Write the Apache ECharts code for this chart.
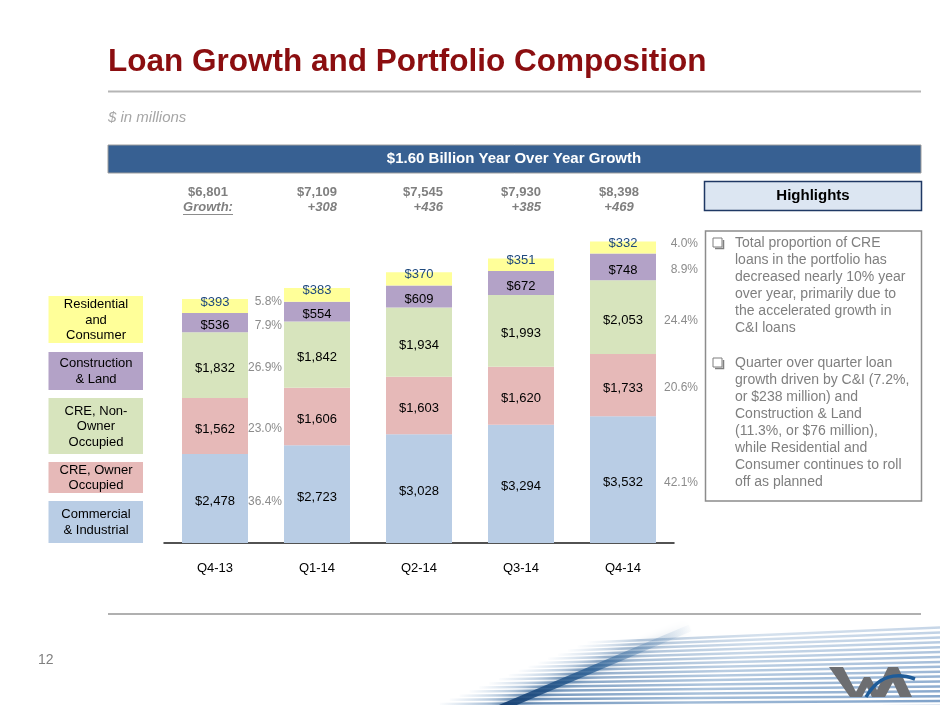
<!DOCTYPE html>
<html><head><meta charset="utf-8">
<script src="https://cdn.jsdelivr.net/npm/echarts@6/dist/echarts.min.js"></script>
<style>html,body{margin:0;padding:0;background:#fff}#c{width:940px;height:705px}</style>
</head><body><div id="c"></div>
<script>
// ---------- data ----------
const categories = ['Q4-13', 'Q1-14', 'Q2-14', 'Q3-14', 'Q4-14'];
const commercialIndustrial = [2478, 2723, 3028, 3294, 3532];
const creOwnerOccupied = [1562, 1606, 1603, 1620, 1733];
const creNonOwnerOccupied = [1832, 1842, 1934, 1993, 2053];
const constructionLand = [536, 554, 609, 672, 748];
const residentialConsumer = [393, 383, 370, 351, 332];
const totals = ['$6,801', '$7,109', '$7,545', '$7,930', '$8,398'];
const growth = ['Growth:', '+308', '+436', '+385', '+469'];
// share of portfolio, bottom to top
const pctQ413 = ['36.4%', '23.0%', '26.9%', '7.9%', '5.8%'];
const pctQ414 = ['42.1%', '20.6%', '24.4%', '8.9%', '4.0%'];
const seriesNames = ['Commercial & Industrial', 'CRE, Owner Occupied', 'CRE, Non-Owner Occupied', 'Construction & Land', 'Residential and Consumer'];

// ---------- styles ----------
const FONT = 'Arial, "Liberation Sans", sans-serif';
const colors = ['#B9CDE5', '#E6B9B8', '#D7E4BD', '#B3A2C7', '#FFFF99'];
const seriesData = [commercialIndustrial, creOwnerOccupied, creNonOwnerOccupied, constructionLand, residentialConsumer];
const fmt = v => '$' + String(v).replace(/\B(?=(\d{3})+(?!\d))/g, ',');

const series = [];
seriesData.forEach((d, i) => {
  series.push({
    name: seriesNames[i], type: 'bar', stack: 'main', barWidth: 66, barGap: '-100%',
    xAxisIndex: 0, yAxisIndex: 0, silent: true,
    itemStyle: { color: colors[i] },
    label: {
      show: true, position: 'inside', fontFamily: FONT, fontSize: 13,
      color: i === 4 ? '#1F497D' : '#000', offset: [0, i === 4 ? -4 : 3],
      formatter: p => fmt(p.value)
    },
    data: d
  });
});
// percentage labels (overlaid transparent stack)
seriesData.forEach((d, i) => {
  series.push({
    type: 'bar', stack: 'pct', barWidth: 66, barGap: '-100%',
    xAxisIndex: 0, yAxisIndex: 0, silent: true,
    itemStyle: { color: 'rgba(0,0,0,0)' },
    data: d.map((v, j) => ({
      value: v,
      label: {
        show: j === 0 || j === 4, position: 'right', align: 'right',
        distance: j === 0 ? 34 : 42, offset: [0, i === 4 ? -4 : 3],
        fontFamily: FONT, fontSize: 12, color: '#8C8C8C',
        formatter: () => (j === 0 ? pctQ413[i] : pctQ414[i])
      }
    }))
  });
});

// top labels: totals and growth
const spacers = [{l: 0, r: 14}, {l: 0, r: 0}, {l: 8, r: 0}, {l: 0, r: 0}, {l: 0, r: 8}];
function topLabel(v, i) {
  const s = spacers[i];
  const L = s.l ? '{sl| }' : '';
  const R = s.r ? '{sr' + i + '| }' : '';
  return L + '{t|' + totals[i] + '}' + R + '\n' + '{g|' + growth[i] + '}' + R;
}
const topRich = {
  t: { fontFamily: FONT, fontWeight: 'bold', fontSize: 13, color: '#7F7F7F', lineHeight: 15, align: 'right' },
  g: { fontFamily: FONT, fontWeight: 'bold', fontStyle: 'italic', fontSize: 13, color: '#7F7F7F', lineHeight: 15, align: 'right' },
  sl: { width: 8, fontSize: 13, lineHeight: 15 }
};
spacers.forEach((s, i) => { if (s.r) topRich['sr' + i] = { width: s.r, fontSize: 13, lineHeight: 15 }; });

// ---------- graphics ----------
const graphics = [];
// title
graphics.push({ type: 'text', x: 108, y: 62, style: { text: 'Loan Growth and Portfolio Composition', font: 'bold 31.5px ' + FONT, fill: '#8B0E10', textVerticalAlign: 'middle' } });
graphics.push({ type: 'line', shape: { x1: 108, y1: 91.5, x2: 921, y2: 91.5 }, style: { stroke: '#B5B5B5', lineWidth: 2 } });
graphics.push({ type: 'text', x: 108, y: 117.5, style: { text: '$ in millions', font: 'italic 15px ' + FONT, fill: '#A6A6A6', textVerticalAlign: 'middle' } });
// banner
graphics.push({ type: 'rect', shape: { x: 108, y: 145, width: 813, height: 28 }, style: { fill: '#376092', stroke: '#9C9C9C', lineWidth: 1 } });
graphics.push({ type: 'text', x: 514, y: 159, style: { text: '$1.60 Billion Year Over Year Growth', font: 'bold 15px ' + FONT, fill: '#FFFFFF', textAlign: 'center', textVerticalAlign: 'middle' } });
// underline for "Growth:"
graphics.push({ type: 'line', shape: { x1: 183, y1: 214.5, x2: 233, y2: 214.5 }, style: { stroke: '#8C8C8C', lineWidth: 1 } });
// highlights header
graphics.push({ type: 'rect', shape: { x: 704.5, y: 181.5, width: 217, height: 29 }, style: { fill: '#DCE6F2', stroke: '#1F3864', lineWidth: 1.5 } });
graphics.push({ type: 'text', x: 813, y: 196, style: { text: 'Highlights', font: 'bold 15px ' + FONT, fill: '#000', textAlign: 'center', textVerticalAlign: 'middle' } });
// highlights body
graphics.push({ type: 'rect', shape: { x: 705.5, y: 231, width: 216, height: 270 }, style: { fill: '#fff', stroke: '#8C8C8C', lineWidth: 1.5 } });
const para1 = ['Total proportion of CRE', 'loans in the portfolio has', 'decreased nearly 10% year', 'over year, primarily due to', 'the accelerated growth in', 'C&I loans'];
const para2 = ['Quarter over quarter loan', 'growth driven by C&I (7.2%,', 'or $238 million) and', 'Construction & Land', '(11.3%, or $76 million),', 'while Residential and', 'Consumer continues to roll', 'off as planned'];
graphics.push({ type: 'text', x: 735, y: 234.5, style: { text: para1.join('\n'), font: '14px ' + FONT, fill: '#7F7F7F', lineHeight: 17, textVerticalAlign: 'top' } });
graphics.push({ type: 'text', x: 735, y: 355, style: { text: para2.join('\n'), font: '14px ' + FONT, fill: '#7F7F7F', lineHeight: 17, textVerticalAlign: 'top' } });
[243, 363].forEach(y => {
  graphics.push({ type: 'rect', shape: { x: 713, y: y - 5, width: 9, height: 9 }, style: { fill: 'none', stroke: '#7F7F7F', lineWidth: 1 } });
  graphics.push({ type: 'polyline', shape: { points: [[715, y + 5.5], [723.5, y + 5.5], [723.5, y - 3]] }, style: { stroke: '#7F7F7F', lineWidth: 1.5, fill: 'none' } });
});
// legend boxes
const legendBoxes = [
  { y: 296, h: 47, text: 'Residential\nand\nConsumer', c: 4 },
  { y: 352, h: 38, text: 'Construction\n& Land', c: 3 },
  { y: 398, h: 56, text: 'CRE, Non-\nOwner\nOccupied', c: 2 },
  { y: 462, h: 31, text: 'CRE, Owner\nOccupied', c: 1 },
  { y: 501, h: 42, text: 'Commercial\n& Industrial', c: 0 }
];
legendBoxes.forEach(b => {
  graphics.push({ type: 'rect', shape: { x: 48.5, y: b.y, width: 94.5, height: b.h }, style: { fill: colors[b.c] } });
  graphics.push({ type: 'text', x: 96, y: b.y + b.h / 2 + 0.5, style: { text: b.text, font: '13px ' + FONT, fill: '#000', lineHeight: 15.5, textAlign: 'center', textVerticalAlign: 'middle' } });
});
// footer
graphics.push({ type: 'line', shape: { x1: 108, y1: 614, x2: 921, y2: 614 }, style: { stroke: '#B0B0B0', lineWidth: 2 } });
graphics.push({ type: 'text', x: 38, y: 660, style: { text: '12', font: '14px ' + FONT, fill: '#808080', textVerticalAlign: 'middle' } });
// decorative stripes
for (let i = 0; i < 17; i++) {
  const yl = 706 - i * 4.1;
  const xl = 500 + (706 - yl) * 2.4;
  const yr = 706 - i * 4.9;
  const a = 0.85 - i * 0.03;
  graphics.push({ type: 'line', silent: true, shape: { x1: xl - 70, y1: yl + 2, x2: 940, y2: yr },
    style: { lineWidth: 2.5, stroke: { type: 'linear', x: 0, y: 0, x2: 1, y2: 0, colorStops: [
      { offset: 0, color: 'rgba(140,175,210,0)' },
      { offset: 0.15, color: 'rgba(70,115,165,' + a + ')' },
      { offset: 0.5, color: 'rgba(120,158,198,' + (a * 0.85) + ')' },
      { offset: 1, color: 'rgba(100,142,190,' + a + ')' }] } } });
}
graphics.push({ type: 'line', silent: true, shape: { x1: 496, y1: 710, x2: 690, y2: 628 },
  style: { lineWidth: 7, shadowBlur: 8, shadowColor: 'rgba(30,80,130,0.6)', stroke: { type: 'linear', x: 0, y: 1, x2: 1, y2: 0, colorStops: [
    { offset: 0, color: 'rgba(20,60,110,0.95)' }, { offset: 0.5, color: 'rgba(35,90,145,0.75)' }, { offset: 1, color: 'rgba(120,160,200,0)' }] } } });
// logo
graphics.push({ type: 'polygon', shape: { points: [[829, 667], [843, 667], [856, 692], [864, 677], [870, 677], [877, 690], [888, 667], [898, 667], [912, 697], [900, 697], [893, 682], [885, 697], [872, 697], [867, 687], [862, 697], [850, 697]] }, style: { fill: '#6D6E71' } });
graphics.push({ type: 'bezierCurve', shape: { x1: 866, y1: 697, cpx1: 878, cpy1: 676, x2: 915, y2: 679, cpx2: 896, cpy2: 672 }, style: { stroke: '#1F5C99', lineWidth: 3.5, fill: 'none' } });

// ---------- chart ----------
const chart = echarts.init(document.getElementById('c'), null, { renderer: 'canvas' });
chart.setOption({
  animation: false,
  backgroundColor: '#fff',
  grid: { left: 164, right: 266, top: 220, bottom: 162, containLabel: false },
  xAxis: [
    { type: 'category', data: categories, position: 'bottom',
      axisLine: { lineStyle: { color: '#1A1A1A', width: 1.5 } },
      axisTick: { alignWithLabel: true, length: 6, lineStyle: { color: '#1A1A1A', width: 1.2 } },
      axisLabel: { fontFamily: FONT, fontSize: 13, color: '#000', margin: 19, interval: 0 } },
    { type: 'category', data: categories, position: 'top',
      axisLine: { show: false }, axisTick: { show: false },
      axisLabel: { margin: 5, interval: 0, hideOverlap: false, formatter: topLabel, rich: topRich } }
  ],
  yAxis: { type: 'value', min: 0, max: 9000, show: false, splitLine: { show: false } },
  series: series,
  graphic: graphics
});
</script></body></html>
